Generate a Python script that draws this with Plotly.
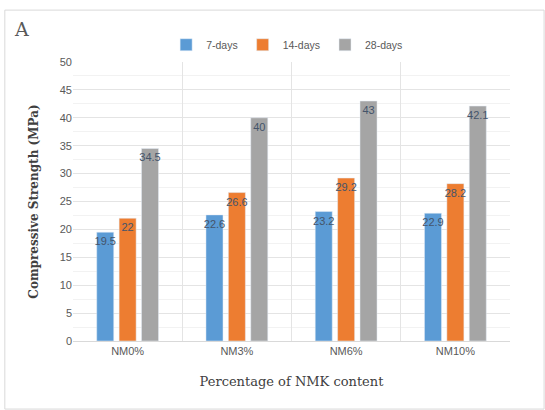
import plotly.graph_objects as go

categories = ["NM0%", "NM3%", "NM6%", "NM10%"]
days_7 = [19.5, 22.6, 23.2, 22.9]
days_14 = [22, 26.6, 29.2, 28.2]
days_28 = [34.5, 40, 43, 42.1]
series_names = ["7-days", "14-days", "28-days"]
y_ticks = [0, 5, 10, 15, 20, 25, 30, 35, 40, 45, 50]

colors = ["#5B9BD5", "#ED7D31", "#A5A5A5"]

fig = go.Figure()
for name, vals, col in zip(series_names, [days_7, days_14, days_28], colors):
    fig.add_trace(go.Bar(
        name=name, x=categories, y=vals, marker_color=col,
        text=[f"{v:g}" for v in vals], textposition="inside",
        insidetextanchor="end", textangle=0, constraintext="none",
        textfont=dict(family="Liberation Sans, sans-serif", size=11, color="#44546A"),
        cliponaxis=False,
    ))

fig.update_layout(
    width=545, height=410,
    margin=dict(l=73, r=35, t=62, b=69),
    paper_bgcolor="white", plot_bgcolor="white",
    barmode="group", bargap=0.385, bargroupgap=0.24,
    uniformtext=dict(minsize=8, mode="show"),
    legend=dict(orientation="h", x=0.49, xanchor="center", y=1.01, yanchor="bottom",
                font=dict(family="Liberation Sans, sans-serif", size=10.5, color="#595959"),
                itemwidth=30, tracegroupgap=0, traceorder="normal"),
    xaxis=dict(tickson="boundaries", showgrid=True, gridcolor="#E4E4E4", ticks="",
               showline=True, linecolor="#D9D9D9",
               tickfont=dict(family="Liberation Sans, sans-serif", size=11, color="#595959"),
               title=dict(text="Percentage of NMK content", standoff=20,
                          font=dict(family="DejaVu Serif, serif", size=13, color="#404040"))),
    yaxis=dict(range=[0, 50], tickvals=y_ticks, showgrid=True, gridcolor="#E4E4E4",
               zeroline=False, ticks="",
               tickfont=dict(family="Liberation Sans, sans-serif", size=11, color="#595959"),
               minor=dict(showgrid=True, gridcolor="#F2F2F2", dtick=2.5),
               title=dict(text="<b>Compressive Strength (MPa)</b>", standoff=18,
                          font=dict(family="DejaVu Serif, serif", size=12, color="#404040"))),
    shapes=[dict(type="rect", xref="paper", yref="paper", x0=-0.156, x1=1.078,
                 y0=-0.244, y1=1.186, line=dict(color="#D9D9D9", width=1))],
    annotations=[dict(text="A", xref="paper", yref="paper", x=-0.14, y=1.12,
                      xanchor="left", yanchor="middle", showarrow=False,
                      font=dict(family="DejaVu Serif, serif", size=19, color="#595959"))],
)

fig.write_html("out.html")
